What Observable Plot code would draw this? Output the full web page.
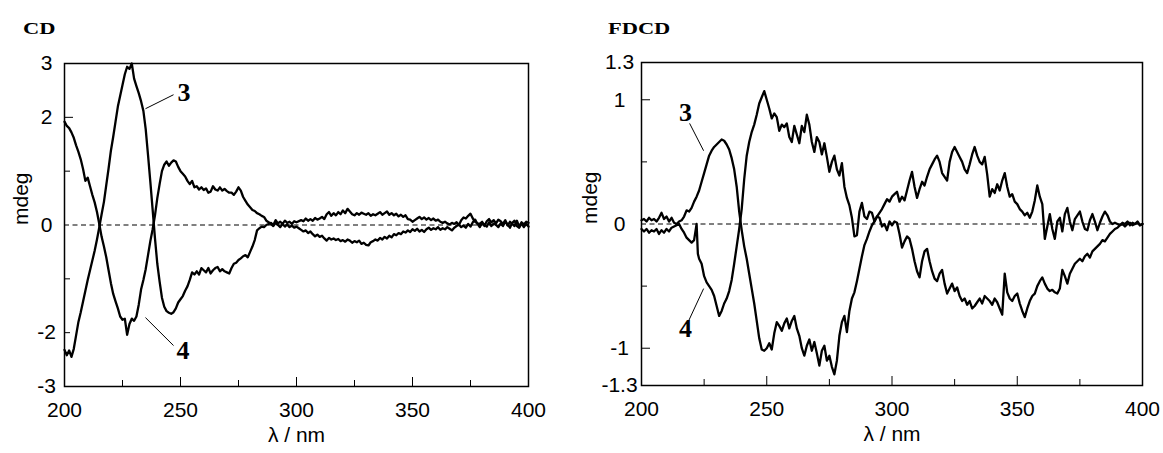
<!DOCTYPE html>
<html><head><meta charset="utf-8">
<script src="https://cdn.jsdelivr.net/npm/d3@7"></script>
<script src="https://cdn.jsdelivr.net/npm/@observablehq/plot@0.6"></script>
<style>
body{margin:0;background:#fff;}
#wrap{position:relative;width:1163px;height:453px;overflow:hidden;background:#fff;}
.panel{position:absolute;top:0;}
.title{position:absolute;font-family:"Liberation Serif","Times New Roman",serif;font-weight:bold;font-size:17px;line-height:17px;color:#000;transform:scaleX(1.32);transform-origin:0 0;}
</style></head><body><div id="wrap"></div><script>
// ---------- data: CD panel (mdeg vs wavelength nm) ----------
const cd3 = [[200,-2.32],[201,-2.42],[202,-2.33],[203,-2.45],[204,-2.30],[205,-2.05],[206,-1.80],[207,-1.62],[208,-1.42],[209,-1.22],[210,-1.02],[211,-0.84],[212,-0.66],[213,-0.48],[214,-0.27],[215,-0.04],[216,0.20],[217,0.43],[218,0.74],[219,1.05],[220,1.38],[221,1.64],[222,1.92],[223,2.20],[224,2.40],[225,2.60],[226,2.80],[227,2.94],[228,2.90],[229,3.00],[230,2.72],[231,2.58],[232,2.45],[233,2.30],[234,2.12],[235,1.78],[236,1.30],[237,0.80],[238,0.28],[239,-0.25],[240,-0.72],[241,-1.05],[242,-1.35],[243,-1.52],[244,-1.60],[245,-1.63],[246,-1.65],[247,-1.62],[248,-1.55],[249,-1.44],[250,-1.38],[251,-1.32],[252,-1.22],[253,-1.14],[254,-1.02],[255,-0.88],[256,-0.92],[257,-0.86],[258,-0.92],[259,-0.80],[260,-0.84],[261,-0.88],[262,-0.80],[263,-0.90],[264,-0.84],[265,-0.80],[266,-0.78],[267,-0.86],[268,-0.82],[269,-0.86],[270,-0.88],[271,-0.90],[272,-0.80],[273,-0.72],[274,-0.70],[275,-0.65],[276,-0.62],[277,-0.58],[278,-0.56],[279,-0.60],[280,-0.50],[281,-0.40],[282,-0.28],[283,-0.10],[284,-0.06],[285,-0.03],[286,-0.04],[287,0.00],[288,0.02],[289,0.04],[290,0.00],[291,0.09],[292,0.03],[293,0.06],[294,0.02],[295,0.08],[296,0.04],[297,0.06],[298,0.02],[299,0.07],[300,0.05],[302,0.09],[303,0.07],[304,0.12],[305,0.08],[306,0.11],[307,0.08],[308,0.13],[309,0.10],[310,0.12],[311,0.15],[312,0.11],[313,0.20],[314,0.24],[315,0.17],[316,0.22],[317,0.18],[318,0.24],[319,0.20],[320,0.27],[321,0.22],[322,0.30],[323,0.25],[324,0.20],[325,0.18],[326,0.22],[327,0.19],[328,0.23],[329,0.21],[330,0.19],[331,0.22],[332,0.17],[333,0.20],[334,0.18],[335,0.21],[336,0.24],[337,0.19],[338,0.22],[339,0.25],[340,0.19],[341,0.22],[342,0.18],[343,0.21],[344,0.16],[345,0.19],[346,0.15],[347,0.18],[348,0.11],[349,0.10],[350,0.06],[351,0.09],[352,0.12],[353,0.15],[354,0.11],[355,0.14],[356,0.10],[357,0.13],[358,0.09],[359,0.12],[360,0.08],[361,0.10],[362,0.06],[363,0.04],[364,0.06],[365,0.03],[366,0.01],[367,0.04],[368,0.02],[369,0.05],[370,0.00],[371,0.09],[372,0.14],[373,0.12],[374,0.17],[375,0.21],[376,0.12],[377,0.06],[378,0.03],[379,0.02],[380,0.06],[381,-0.02],[382,0.07],[383,0.11],[384,0.05],[385,0.09],[386,0.03],[387,0.10],[388,0.07],[389,0.02],[390,0.09],[391,-0.01],[392,0.06],[393,0.02],[394,-0.02],[395,0.08],[396,-0.03],[397,0.05],[398,0.01],[399,0.06],[400,0.04]];
const cd4 = [[200,1.92],[201,1.84],[202,1.80],[203,1.72],[204,1.62],[205,1.48],[206,1.36],[207,1.22],[208,1.04],[209,0.82],[210,0.88],[211,0.72],[212,0.56],[213,0.42],[214,0.24],[215,0.02],[216,-0.22],[217,-0.40],[218,-0.60],[219,-0.84],[220,-1.08],[221,-1.28],[222,-1.42],[223,-1.55],[224,-1.70],[225,-1.76],[226,-1.74],[227,-2.04],[228,-1.84],[229,-1.74],[230,-1.78],[231,-1.70],[232,-1.48],[233,-1.20],[234,-1.02],[235,-0.82],[236,-0.56],[237,-0.30],[238,-0.08],[239,0.18],[240,0.50],[241,0.76],[242,1.00],[243,1.12],[244,1.18],[245,1.10],[246,1.16],[247,1.20],[248,1.18],[249,1.08],[250,1.00],[251,0.95],[252,0.90],[253,0.82],[254,0.76],[255,0.82],[256,0.70],[257,0.72],[258,0.66],[259,0.70],[260,0.65],[261,0.68],[262,0.60],[263,0.62],[264,0.72],[265,0.66],[266,0.64],[267,0.70],[268,0.64],[269,0.67],[270,0.63],[271,0.60],[272,0.60],[273,0.56],[274,0.62],[275,0.70],[276,0.64],[277,0.52],[278,0.45],[279,0.38],[280,0.33],[281,0.28],[282,0.26],[283,0.22],[284,0.20],[285,0.17],[286,0.15],[287,0.08],[288,0.05],[289,0.02],[290,-0.02],[291,0.04],[292,0.00],[293,-0.04],[294,0.02],[295,-0.03],[296,0.01],[297,-0.04],[298,-0.01],[299,-0.05],[300,-0.03],[301,-0.06],[302,-0.09],[303,-0.12],[304,-0.10],[305,-0.15],[306,-0.12],[307,-0.17],[308,-0.21],[309,-0.18],[310,-0.22],[311,-0.20],[312,-0.25],[313,-0.29],[314,-0.24],[315,-0.27],[316,-0.25],[317,-0.28],[318,-0.26],[319,-0.30],[320,-0.28],[321,-0.31],[322,-0.27],[323,-0.29],[324,-0.33],[325,-0.30],[326,-0.32],[327,-0.29],[328,-0.35],[329,-0.33],[330,-0.37],[331,-0.38],[332,-0.32],[333,-0.30],[334,-0.27],[335,-0.29],[336,-0.24],[337,-0.27],[338,-0.22],[339,-0.25],[340,-0.20],[341,-0.23],[342,-0.17],[343,-0.19],[344,-0.15],[345,-0.17],[346,-0.12],[347,-0.14],[348,-0.10],[349,-0.13],[350,-0.08],[351,-0.11],[352,-0.07],[353,-0.12],[354,-0.09],[355,-0.13],[356,-0.08],[357,-0.05],[358,-0.09],[359,-0.06],[360,-0.08],[361,-0.04],[362,-0.09],[363,-0.06],[364,-0.08],[365,-0.04],[366,-0.07],[367,-0.10],[368,-0.05],[369,-0.02],[370,0.01],[371,-0.04],[372,-0.01],[373,-0.05],[374,0.02],[375,-0.03],[376,0.05],[377,0.10],[378,0.02],[379,-0.04],[380,0.04],[381,0.01],[382,-0.03],[383,0.05],[384,-0.02],[385,0.03],[386,0.00],[387,-0.04],[388,0.03],[389,-0.02],[390,0.06],[391,0.01],[392,-0.05],[393,0.04],[394,0.08],[395,-0.02],[396,-0.05],[397,0.03],[398,-0.04],[399,0.02],[400,-0.03]];
// ---------- data: FDCD panel ----------
const fd3 = [[200,0.03],[201,0.04],[202,0.02],[203,0.05],[204,0.03],[205,0.04],[206,0.02],[207,0.05],[208,0.09],[209,0.04],[210,0.06],[211,0.02],[212,0.05],[213,0.01],[214,0.00],[215,0.02],[216,0.03],[217,0.06],[218,0.11],[219,0.10],[220,0.13],[221,0.18],[222,0.22],[223,0.27],[224,0.34],[225,0.41],[226,0.48],[227,0.55],[228,0.59],[229,0.62],[230,0.64],[231,0.66],[232,0.68],[233,0.67],[234,0.64],[235,0.60],[236,0.53],[237,0.44],[238,0.30],[239,0.10],[240,-0.05],[241,-0.18],[242,-0.28],[243,-0.40],[244,-0.52],[245,-0.64],[246,-0.78],[247,-0.92],[248,-1.01],[249,-1.02],[250,-1.00],[251,-0.96],[252,-1.01],[253,-0.88],[254,-0.79],[255,-0.82],[256,-0.86],[257,-0.80],[258,-0.76],[259,-0.84],[260,-0.78],[261,-0.74],[262,-0.84],[263,-0.90],[264,-1.00],[265,-1.06],[266,-0.98],[267,-0.93],[268,-1.02],[269,-0.95],[270,-1.04],[271,-1.14],[272,-1.02],[273,-0.98],[274,-1.10],[275,-1.06],[276,-1.15],[277,-1.21],[278,-1.10],[279,-0.90],[280,-0.79],[281,-0.74],[282,-0.87],[283,-0.70],[284,-0.60],[285,-0.55],[286,-0.46],[287,-0.36],[288,-0.26],[289,-0.17],[290,-0.12],[291,-0.06],[292,-0.01],[293,0.02],[294,0.06],[295,0.09],[296,0.12],[297,0.16],[298,0.20],[299,0.18],[300,0.22],[301,0.24],[302,0.26],[303,0.18],[304,0.22],[305,0.19],[306,0.27],[307,0.35],[308,0.42],[309,0.30],[310,0.21],[311,0.28],[312,0.34],[313,0.31],[314,0.38],[315,0.44],[316,0.48],[317,0.52],[318,0.55],[319,0.50],[320,0.41],[321,0.38],[322,0.35],[323,0.50],[324,0.58],[325,0.62],[326,0.58],[327,0.54],[328,0.50],[329,0.44],[330,0.41],[331,0.48],[332,0.56],[333,0.62],[334,0.55],[335,0.50],[336,0.48],[337,0.54],[338,0.40],[339,0.22],[340,0.28],[341,0.25],[342,0.32],[343,0.27],[344,0.35],[345,0.41],[346,0.30],[347,0.22],[348,0.24],[349,0.18],[350,0.16],[351,0.12],[352,0.10],[353,0.07],[354,0.09],[355,0.05],[356,0.10],[357,0.19],[358,0.31],[359,0.22],[360,0.16],[361,-0.12],[362,-0.02],[363,0.08],[364,-0.04],[365,-0.12],[366,0.02],[367,0.05],[368,-0.06],[369,0.08],[370,0.13],[371,0.02],[372,-0.05],[373,0.04],[374,0.07],[375,0.10],[376,0.02],[377,-0.04],[378,-0.05],[379,0.03],[380,0.08],[381,0.02],[382,-0.05],[383,0.01],[384,0.06],[385,0.10],[386,0.07],[387,0.02],[388,0.00],[389,0.01],[390,0.00],[391,-0.01],[392,0.01],[393,0.00],[394,0.02],[395,-0.01],[396,0.01],[397,0.00],[398,0.02],[399,-0.01],[400,0.00]];
const fd4 = [[200,-0.04],[201,-0.06],[202,-0.04],[203,-0.07],[204,-0.05],[205,-0.06],[206,-0.04],[207,-0.08],[208,-0.05],[209,-0.07],[210,-0.04],[211,-0.06],[212,-0.03],[213,-0.02],[214,-0.01],[215,0.00],[216,-0.04],[217,-0.07],[218,-0.11],[219,-0.13],[220,-0.15],[221,-0.13],[222,0.00],[222.5,-0.24],[223,-0.28],[224,-0.32],[225,-0.42],[226,-0.47],[227,-0.50],[228,-0.53],[229,-0.58],[230,-0.66],[231,-0.74],[232,-0.70],[233,-0.64],[234,-0.60],[235,-0.54],[236,-0.45],[237,-0.32],[238,-0.18],[239,-0.04],[240,0.12],[241,0.36],[242,0.55],[243,0.66],[244,0.74],[245,0.80],[246,0.88],[247,0.97],[248,1.02],[249,1.07],[250,1.00],[251,0.93],[252,0.85],[253,0.89],[254,0.86],[255,0.75],[256,0.80],[257,0.78],[258,0.81],[259,0.70],[260,0.66],[261,0.79],[262,0.72],[263,0.65],[264,0.79],[265,0.74],[266,0.88],[267,0.80],[268,0.66],[269,0.58],[270,0.70],[271,0.66],[272,0.56],[273,0.65],[274,0.54],[275,0.42],[276,0.50],[277,0.55],[278,0.44],[279,0.39],[280,0.49],[281,0.30],[282,0.21],[283,0.15],[284,0.05],[285,-0.10],[286,-0.09],[287,0.10],[288,0.17],[289,0.06],[290,0.04],[291,0.10],[292,0.09],[293,0.02],[294,0.06],[295,0.05],[296,-0.02],[297,0.00],[298,-0.05],[299,0.02],[300,-0.01],[301,0.02],[302,0.01],[303,-0.08],[304,-0.19],[305,-0.14],[306,-0.10],[307,-0.12],[308,-0.20],[309,-0.30],[310,-0.38],[311,-0.43],[312,-0.30],[313,-0.22],[314,-0.20],[315,-0.30],[316,-0.38],[317,-0.44],[318,-0.46],[319,-0.40],[320,-0.37],[321,-0.48],[322,-0.56],[323,-0.52],[324,-0.48],[325,-0.54],[326,-0.51],[327,-0.58],[328,-0.62],[329,-0.60],[330,-0.65],[331,-0.62],[332,-0.68],[333,-0.66],[334,-0.63],[335,-0.60],[336,-0.64],[337,-0.58],[338,-0.60],[339,-0.62],[340,-0.65],[341,-0.60],[342,-0.63],[343,-0.68],[344,-0.73],[345,-0.40],[346,-0.55],[347,-0.60],[348,-0.62],[349,-0.58],[350,-0.56],[351,-0.64],[352,-0.70],[353,-0.75],[354,-0.68],[355,-0.62],[356,-0.58],[357,-0.56],[358,-0.50],[359,-0.46],[360,-0.43],[361,-0.48],[362,-0.52],[363,-0.54],[364,-0.53],[365,-0.55],[366,-0.56],[367,-0.52],[368,-0.37],[369,-0.42],[370,-0.48],[371,-0.40],[372,-0.36],[373,-0.32],[374,-0.30],[375,-0.28],[376,-0.30],[377,-0.26],[378,-0.24],[379,-0.27],[380,-0.22],[381,-0.20],[382,-0.18],[383,-0.16],[384,-0.13],[385,-0.14],[386,-0.11],[387,-0.08],[388,-0.06],[389,-0.04],[390,-0.03],[391,-0.01],[392,0.00],[393,-0.02],[394,0.00],[395,0.01],[396,-0.01],[397,0.00],[398,0.01],[399,-0.01],[400,0.00]];

// ---------- axis tick values / labels ----------
const xLabelTicks = [200, 250, 300, 350, 400];
const xMinorTicks = [225, 275, 325, 375];
const xMajorInner = [250, 300, 350];
const cdYLabels = [3, 2, 0, -2, -3];
const cdYMajor = [2];
const cdYMinor = [1, -1, -2];
const fdYLabels = [1.3, 1, 0, -1, -1.3];
const fdYMajor = [1, -1];
const fdYMinor = [0.5, -0.5];

// ---------- curve annotations: [text, labelX, labelY, lineX1, lineY1, lineX2, lineY2] ----------
const cdNotes = [["3", 251.5, 2.46, 234.9, 2.16, 247.0, 2.42], ["4", 251.1, -2.33, 234.9, -1.72, 247.0, -2.24]];
const fdNotes = [["3", 217.6, 0.90, 219.2, 0.81, 224.8, 0.59], ["4", 217.6, -0.84, 224.8, -0.52, 218.8, -0.78]];

const SANS = "Liberation Sans, Arial, Helvetica, sans-serif";
const SERIF = "Liberation Serif, Times New Roman, serif";
const FS = 21;

function panel(o) {
  const lineOpts = {x: d => d[0], y: d => d[1], stroke: "black", strokeWidth: 2.3, curve: "linear", strokeLinejoin: "round"};
  return Plot.plot({
    width: o.width, height: 453,
    marginLeft: o.ml, marginRight: o.mr, marginTop: o.mt, marginBottom: o.mb,
    style: {fontFamily: SANS, fontSize: FS + "px", background: "white", overflow: "visible", color: "black"},
    x: {domain: [200, 400], axis: null},
    y: {domain: o.yDomain, axis: null},
    marks: [
      Plot.ruleY([0], {stroke: "black", strokeWidth: 1, strokeDasharray: "5,3.5"}),
      Plot.line(o.d3, lineOpts),
      Plot.line(o.d4, lineOpts),
      Plot.link(o.notes, {x1: d => d[3], y1: d => d[4], x2: d => d[5], y2: d => d[6], stroke: "black", strokeWidth: 1}),
      Plot.text(o.notes, {x: d => d[1], y: d => d[2], text: d => d[0], fontFamily: SERIF, fontWeight: "bold", fontSize: 26, fill: "black"}),
      // inward ticks
      Plot.axisY({ticks: o.yMajor, tickSize: -9, tickFormat: () => "", strokeWidth: 1}),
      Plot.axisY({ticks: o.yMinor, tickSize: -6, tickFormat: () => "", strokeWidth: 1}),
      Plot.axisX({ticks: xMajorInner, tickSize: -9, tickFormat: () => "", strokeWidth: 1}),
      Plot.axisX({ticks: xMinorTicks, tickSize: -6, tickFormat: () => "", strokeWidth: 1}),
      // tick labels
      Plot.axisY({ticks: o.yLabels, tickSize: 0, tickPadding: o.yPad, textAnchor: "middle", tickFormat: d => String(d), fontSize: FS, label: null}),
      Plot.axisX({ticks: xLabelTicks, tickSize: 0, tickPadding: 16, tickFormat: d => String(d), fontSize: FS, label: null}),
      Plot.frame({stroke: "black", strokeWidth: 1.5}),
      Plot.text(["λ / nm"], {frameAnchor: "bottom", dy: 55, fontSize: FS, fill: "black"}),
      Plot.text(["mdeg"], {frameAnchor: "left", dx: o.mdegDx, rotate: -90, fontSize: FS, fill: "black"})
    ]
  });
}

const wrap = document.getElementById("wrap");
function place(node, left) {
  const d = document.createElement("div");
  d.className = "panel"; d.style.left = left + "px";
  d.appendChild(node); wrap.appendChild(d);
}
place(panel({width: 575, ml: 64, mr: 47, mt: 63, mb: 67, yDomain: [-3, 3], d3: cd3, d4: cd4,
  yLabels: cdYLabels, yMajor: cdYMajor, yMinor: cdYMinor, yPad: 18, notes: cdNotes, mdegDx: -43}), 0);
place(panel({width: 583, ml: 61, mr: 21, mt: 62, mb: 68, yDomain: [-1.3, 1.3], d3: fd3, d4: fd4,
  yLabels: fdYLabels, yMajor: fdYMajor, yMinor: fdYMinor, yPad: 22, notes: fdNotes, mdegDx: -51}), 580);

function title(t, x, y) {
  const d = document.createElement("div");
  d.className = "title"; d.textContent = t;
  d.style.left = x + "px"; d.style.top = y + "px";
  wrap.appendChild(d);
}
title("CD", 23, 20);
title("FDCD", 608, 20);
</script></body></html>
